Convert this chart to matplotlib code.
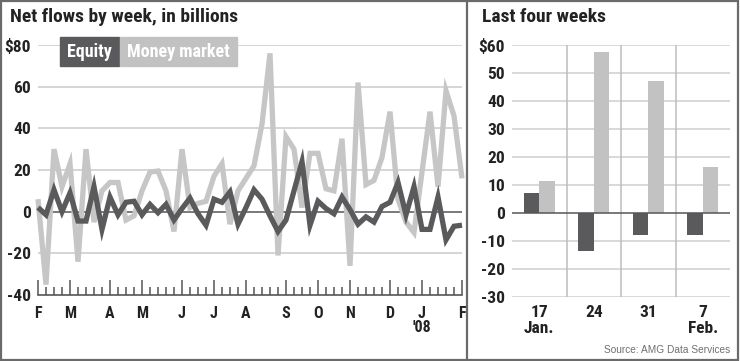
import matplotlib
matplotlib.use('Agg')
import matplotlib.pyplot as plt
from matplotlib.patches import Rectangle
from matplotlib.lines import Line2D
from matplotlib.transforms import blended_transform_factory
import numpy as np

COND = ['Roboto Condensed', 'Archivo Narrow', 'PT Sans Narrow', 'Fira Sans Condensed',
        'IBM Plex Sans Condensed', 'Liberation Sans Narrow', 'DejaVu Sans']
plt.rcParams['font.family'] = COND

# ---- data: weekly net flows, Feb 1 2007 .. Feb 7 2008 ($ billions) ----
weeks = list(range(54))
equity = [2, -1.5, 10.5, 0, 9, -4.5, -4.5, 12, -8.5, 7,
          -1.5, 4.5, 5, -1.5, 3.5, -0.5, 3.5, -4, 1.5, 6.5,
          -1, -6.5, 6, 4.5, 9.5, -6, 2, 10.5, 6, -2,
          -9.5, -4, 10, 24, -6.5, 5, 1.5, -1, 7, 1,
          -6, -2.5, -5, 2.5, 4.5, 14, -1.5, 12, -8.5, -8.5,
          7, -13.5, -7, -6.5]
money_market = [6, -35, 30, 12, 23, -24, 30, -5, 10, 14,
                14, -4, -2, 10, 19, 19.5, 10, -9.5, 30, 2,
                4, 5, 17, 23, -6, 10, 16, 22, 42, 76,
                -21, 36, 30, 2, 28, 28, 11, 10, 35, -26,
                62, 13, 15, 26, 48, 6, -5, -10, 19, 48,
                12, 58, 46, 16]
month_labels = ['F', 'M', 'A', 'M', 'J', 'J', 'A', 'S', 'O', 'N', 'D', 'J', 'F']
month_starts = [0, 4, 9, 13, 18, 22, 26, 31, 35, 39, 44, 48, 53]
left_yticks = [-40, -20, 0, 20, 40, 60, 80]
left_yticklabels = ['-40', '-20', '0', '20', '40', '60', '$80']

last_weeks = ['17\nJan.', '24', '31', '7\nFeb.']
last_equity = [7.2, -13.6, -7.7, -7.7]
last_mm = [11.4, 57.6, 47.2, 16.6]
right_yticks = [-30, -20, -10, 0, 10, 20, 30, 40, 50, 60]
right_yticklabels = ['-30', '-20', '-10', '0', '10', '20', '30', '40', '50', '$60']

DARK = '#5a5a5c'
LIGHT = '#c6c6c6'
GRID = '#d2d2d2'
TXT = '#222222'

W, H = 740, 361
fig = plt.figure(figsize=(W / 100, H / 100), dpi=100)
fig.patch.set_facecolor('white')


def fx(px):
    return px / W


def fy(py):
    return 1 - py / H


# ---------------- left panel ----------------
ax = fig.add_axes([fx(38), fy(295), fx(462) - fx(38), fy(45) - fy(295)])
ax.set_xlim(0, 53)
ax.set_ylim(-40, 80)
for v in [-20, 20, 40, 60, 80]:
    ax.axhline(v, color=GRID, lw=1.3, zorder=1)
ax.axhline(0, color='#555555', lw=1.1, zorder=2)
ax.plot(weeks, money_market, color=LIGHT, lw=3.8, zorder=3, clip_on=False,
        solid_joinstyle='miter', solid_capstyle='butt')
ax.plot(weeks, equity, color=DARK, lw=3.8, zorder=4, clip_on=False,
        solid_joinstyle='miter', solid_capstyle='butt')
for s in ['top', 'right', 'left']:
    ax.spines[s].set_visible(False)
ax.spines['bottom'].set_color('#555555')
ax.spines['bottom'].set_linewidth(1.2)
ax.set_xticks(month_starts)
ax.set_xticklabels(month_labels, fontsize=11.5, fontweight='bold', color=TXT)
ax.set_xticks(weeks, minor=True)
ax.tick_params(axis='x', which='major', direction='in', length=11, width=1.1,
               color='#555555', pad=8)
ax.tick_params(axis='x', which='minor', direction='in', length=5.5, width=1.1,
               color='#555555')
ax.set_yticks(left_yticks)
ax.set_yticklabels(left_yticklabels, fontsize=12.5, fontweight='bold', color=TXT)
ax.tick_params(axis='y', length=0, pad=5)
ax.patch.set_alpha(0)

tr = blended_transform_factory(ax.transData, fig.transFigure)
ax.text(month_starts[11], fy(328), "'08", transform=tr, ha='center', va='center',
        fontsize=11.5, fontweight='bold', color=TXT)

# legend boxes
fig.patches.append(Rectangle((fx(60), fy(66)), fx(119) - fx(60), fy(37) - fy(66),
                             transform=fig.transFigure, color=DARK, zorder=5))
fig.patches.append(Rectangle((fx(120), fy(66)), fx(237) - fx(120), fy(37) - fy(66),
                             transform=fig.transFigure, color='#c2c2c2', zorder=5))
fig.text(fx(89.5), fy(52), 'Equity', ha='center', va='center', fontsize=13,
         fontweight='bold', color='white', zorder=6)
fig.text(fx(178.5), fy(52), 'Money market', ha='center', va='center', fontsize=13,
         fontweight='bold', color='white', zorder=6)

fig.text(fx(10), fy(22), 'Net flows by week, in billions', ha='left', va='baseline',
         fontsize=14, fontweight='bold', color=TXT)

# ---------------- right panel ----------------
ax2 = fig.add_axes([fx(512), fy(297), fx(730) - fx(512), fy(45) - fy(297)])
ax2.set_xlim(0, 4)
ax2.set_ylim(-30, 60)
for v in right_yticks:
    if v != 0:
        ax2.axhline(v, color=GRID, lw=1.2, zorder=1)
for xv in [1, 2, 3]:
    ax2.axvline(xv, color='#bdbdbd', lw=1.1, zorder=1)
x = np.arange(len(last_weeks)) + 0.5
bw = 0.285
ax2.bar(x - bw / 2, last_equity, width=bw, color=DARK, zorder=3)
ax2.bar(x + bw / 2, last_mm, width=bw, color='#c2c2c2', zorder=3)
ax2.axhline(0, color='#555555', lw=1.1, zorder=4)
for s in ax2.spines.values():
    s.set_visible(False)
ax2.set_xticks(x)
ax2.set_xticklabels(last_weeks, fontsize=12.5, fontweight='bold', color=TXT,
                    linespacing=1.05)
ax2.tick_params(axis='x', length=0, pad=6)
ax2.set_yticks(right_yticks)
ax2.set_yticklabels(right_yticklabels, fontsize=12.5, fontweight='bold', color=TXT)
ax2.tick_params(axis='y', length=0, pad=5)
ax2.patch.set_alpha(0)

fig.text(fx(482), fy(22), 'Last four weeks', ha='left', va='baseline',
         fontsize=14, fontweight='bold', color=TXT)
fig.text(fx(730), fy(353), 'Source: AMG Data Services', ha='right', va='baseline',
         fontsize=7.3, color='#707070',
         family=['Liberation Sans', 'Arimo', 'DejaVu Sans'])

# frame and divider
fig.add_artist(Rectangle((fx(1), fy(359.5)), fx(738) - fx(1), fy(1) - fy(359.5),
                         transform=fig.transFigure, fill=False, edgecolor='#6a6a6a',
                         lw=1.6))
fig.add_artist(Line2D([fx(467), fx(467)], [fy(1), fy(359.5)], transform=fig.transFigure,
                      color='#6a6a6a', lw=1.6))

fig.savefig('out.png', dpi=100, facecolor='white')
